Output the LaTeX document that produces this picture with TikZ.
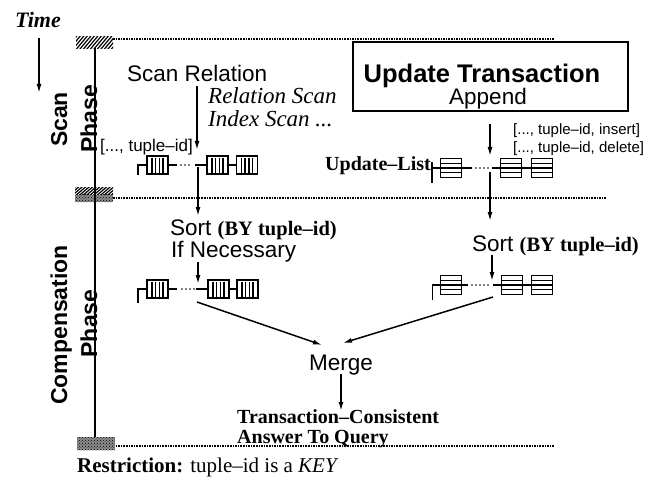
\documentclass[tikz,border=0pt]{standalone}
\usepackage{fontspec}
\setmainfont{Liberation Serif}
\setsansfont{Liberation Sans}
\usetikzlibrary{arrows.meta,patterns}
\tikzset{
  arr/.style={line width=1.5pt,-{Latex[length=9pt,width=5pt]}},
  conn/.style={line width=1.5pt},
  dotline/.style={line width=1.3pt,dash pattern=on 1.6pt off 1pt},
  dotgap/.style={line width=1.9pt,line cap=round,dash pattern=on 0pt off 4pt},
  lbl/.style={inner sep=0pt,anchor=base west},
  sfbig/.style={lbl,font=\fontsize{22.5}{25}\selectfont\sffamily},
  sfhead/.style={inner sep=0pt,anchor=base,font=\fontsize{23}{25}\selectfont\sffamily\bfseries},
  sfsmall/.style={lbl,font=\fontsize{16}{18}\selectfont\sffamily},
  serbold/.style={lbl,font=\fontsize{20}{22}\selectfont\bfseries},
  serit/.style={lbl,font=\fontsize{23}{25}\selectfont\itshape},
  vcell/.pic={
    \draw[line width=1.5pt] (-10.5,-9) rectangle (10.5,9);
    \foreach \xx in {-5.5,-2,2,5.5}{\draw[line width=1.1pt] (\xx,-7.5) -- (\xx,7.5);}
    \coordinate (-w) at (-10.5,0); \coordinate (-e) at (10.5,0);},
  hcell/.pic={
    \draw[line width=1.5pt] (-10.5,-9.5) rectangle (10.5,9.5);
    \foreach \yy in {-4.5,0,4.5}{\draw[line width=1.1pt] (-10.5,\yy) -- (10.5,\yy);}
    \coordinate (-w) at (-10.5,0); \coordinate (-e) at (10.5,0);}
}
\begin{document}
\begin{tikzpicture}[x=1pt,y=-1pt]
\useasboundingbox (0,0) rectangle (653,484);

% phase separators
\draw[dotline] (113,39) -- (555,39);
\draw[dotline] (113,198) -- (607,198);
\draw[dotline] (113,446) -- (555,446);

% hatched blocks
\begin{scope}
  \clip (76,37) rectangle (113,49);
  \foreach \i in {0,3.5,...,60}{\draw[line width=1.2pt] (60+\i,52) -- (75+\i,34);}
\end{scope}
\begin{scope}
  \clip (75,187) rectangle (113,194.5);
  \foreach \i in {0,3.5,...,60}{\draw[line width=1.2pt] (60+\i,197) -- (75+\i,184);}
\end{scope}
\fill[black!45] (75,194.5) rectangle (113,202);
\fill[pattern=crosshatch dots] (75,194.5) rectangle (113,202);
\fill[black!45] (77,437) rectangle (115,450);
\fill[pattern=crosshatch dots] (77,437) rectangle (115,450);
\coordinate (vtop) at (95,48);
\coordinate (vbot) at (95,437);
\draw[line width=1.5pt] (vtop) -- (vbot);

% time
\node[lbl,font=\fontsize{22}{24}\selectfont\bfseries\itshape] (time) at (15,28) {Time};
\coordinate (t1) at (39,38);
\coordinate (t2) at (39,93);
\draw[arr] (t1) -- (t2);

% phase labels
\node[sfhead,rotate=90] (scan) at (67,119.5) {Scan};
\node[sfhead,rotate=90] (phaseA) at (97,119) {Phase};
\node[sfhead,rotate=90] (comp) at (67,325) {Compensation};
\node[sfhead,rotate=90] (phaseB) at (97,323.5) {Phase};

% scan relation
\node[sfbig] (scanrel) at (127,82) {Scan Relation};
\node[serit] (relscan) at (208,104) {Relation Scan};
\node[serit] (idxscan) at (208,127) {Index Scan ...};
\node[sfsmall,font=\fontsize{17}{19}\selectfont\sffamily] (tidA) at (100,151) {[..., tuple--id]};

% update transaction
\node[draw,line width=2pt,minimum width=275pt,minimum height=69pt,inner sep=0pt] (ut) at (490.5,76.5) {};
\node[inner sep=0pt,anchor=base,font=\fontsize{25.5}{28}\selectfont\sffamily\bfseries] (utt) at (482,83) {Update Transaction};
\node[inner sep=0pt,anchor=base,font=\fontsize{22.5}{25}\selectfont\sffamily] (app) at (488,105) {Append};
\node[sfsmall,font=\fontsize{15}{17}\selectfont\sffamily] (ins) at (513,135) {[..., tuple--id, insert]};
\node[sfsmall,font=\fontsize{15}{17}\selectfont\sffamily] (del) at (513,153) {[..., tuple--id, delete]};
\node[lbl,font=\fontsize{20}{22}\selectfont\bfseries] (ulist) at (325,171) {Update--List};

% upper left list
\pic (a1) at (157.5,165) {vcell};
\pic (a2) at (217.5,165) {vcell};
\pic (a3) at (247,165) {vcell};
\draw[conn] (a1-w) -- ++(-9,0) -- ++(0,10);
\coordinate (a1d) at (177,165); \coordinate (a2d) at (195,165);
\draw[conn] (a1-e) -- (a1d);
\draw[dotgap] (181,165) -- (192,165);
\draw[conn] (a2d) -- (a2-w);
\draw[conn] (a2-e) -- (a3-w);

% upper right list
\pic (b1) at (451,168) {hcell};
\pic (b2) at (511,168) {hcell};
\pic (b3) at (542,168) {hcell};
\draw[conn] (b1-w) -- (432,168);
\draw[conn] (432,162) -- (432,183);
\coordinate (b1d) at (472,168); \coordinate (b2d) at (492,168);
\draw[conn] (b1-e) -- (b1d);
\draw[dotgap] (476,168) -- (489,168);
\draw[conn] (b2d) -- (b2-w);
\draw[conn] (b2-e) -- (b3-w);

% arrows in scan phase
\coordinate (sr1) at (197,86); \coordinate (sr2) at (197,150);
\draw[arr] (sr1) -- (sr2);
\coordinate (ut1) at (490,124); \coordinate (ut2) at (490,156);
\draw[arr] (ut1) -- (ut2);

% sort nodes
\node[sfbig] (sortL) at (170,235) {Sort \fontsize{20.5}{23}\selectfont\rmfamily\bfseries (BY tuple--id)};
\node[sfbig] (ifnec) at (171,257) {If Necessary};
\node[sfbig] (sortR) at (472,251) {Sort \fontsize{20.5}{23}\selectfont\rmfamily\bfseries(BY tuple--id)};
\coordinate (l1) at (198,167); \coordinate (l2) at (198,216);
\draw[arr] (l1) -- (l2);
\coordinate (r1) at (490,172); \coordinate (r2) at (490,221);
\draw[arr] (r1) -- (r2);
\coordinate (l3) at (198,262); \coordinate (l4) at (198,284);
\draw[arr] (l3) -- (l4);
\coordinate (r3) at (492,255); \coordinate (r4) at (492,281);
\draw[arr] (r3) -- (r4);

% lower left list
\pic (c1) at (157.5,289) {vcell};
\pic (c2) at (218.5,289) {vcell};
\pic (c3) at (247.5,289) {vcell};
\draw[conn] (c1-w) -- ++(-9,0) -- ++(0,14);
\coordinate (c1d) at (177,289); \coordinate (c2d) at (196,289);
\draw[conn] (c1-e) -- (c1d);
\draw[dotgap] (182,289) -- (194,289);
\draw[conn] (c2d) -- (c2-w);
\draw[conn] (c2-e) -- (c3-w);

% lower right list
\pic (d1) at (451,285) {hcell};
\pic (d2) at (512,285) {hcell};
\pic (d3) at (542,285) {hcell};
\draw[conn] (d1-w) -- ++(-8,0) -- ++(0,15);
\coordinate (d1d) at (468,285); \coordinate (d2d) at (493,285);
\draw[conn] (d1-e) -- (d1d);
\draw[dotgap] (472,285) -- (489,285);
\draw[conn] (d2d) -- (d2-w);
\draw[conn] (d2-e) -- (d3-w);

% merge
\node[inner sep=0pt,anchor=base,font=\fontsize{22.5}{25}\selectfont\sffamily] (merge) at (341,370) {Merge};
\coordinate (m1) at (197,302); \coordinate (m2) at (322,345);
\draw[arr] (m1) -- (m2);
\coordinate (m3) at (493,297); \coordinate (m4) at (343,343);
\draw[arr] (m3) -- (m4);
\coordinate (m5) at (341,374); \coordinate (m6) at (341,411);
\draw[arr] (m5) -- (m6);

\node[serbold] (tc) at (237,423) {Transaction--Consistent};
\node[serbold] (aq) at (237,443) {Answer To Query};
\node[lbl,font=\fontsize{21}{23}\selectfont] (restr) at (77,472) {\textbf{Restriction:} tuple--id is a \textit{KEY}};
\end{tikzpicture}
\end{document}
